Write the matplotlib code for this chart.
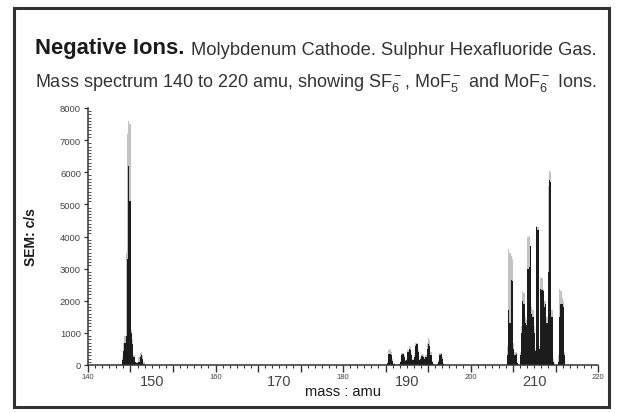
import numpy as np
import matplotlib
matplotlib.use('Agg')
import matplotlib.pyplot as plt
from matplotlib.patches import Rectangle

plt.rcParams['font.family'] = ['Liberation Sans', 'DejaVu Sans']
plt.rcParams['mathtext.default'] = 'regular'

# espectro de massa: SF6- (146), MoF5- (187-196), MoF6- (206-215)
# cada regiao em passos de 0.2 amu; "max" = halo cinza claro, "tipico" = traço escuro
massa_sf6 = np.arange(145.2, 149.01, 0.2)
max_sf6 = [0, 250, 700, 900, 3500, 7200, 7600, 7500, 1100, 800,
           300, 100, 80, 100, 250, 380, 400, 300, 80, 0]
tip_sf6 = [0, 150, 450, 700, 900, 3300, 6200, 5100, 1000, 650,
           250, 80, 60, 60, 100, 250, 300, 200, 40, 0]

massa_mof5 = np.arange(186.8, 196.01, 0.2)
max_mof5 = [0, 100, 480, 500, 420, 180, 50, 0, 0, 0,
            40, 120, 360, 380, 300, 160, 200, 480, 580, 560,
            380, 200, 300, 680, 700, 460, 200, 250, 330, 310,
            240, 300, 700, 830, 780, 400, 120, 40, 0, 0,
            40, 150, 360, 380, 260, 60, 0]
tip_mof5 = [0, 60, 330, 340, 300, 120, 30, 0, 0, 0,
            20, 80, 300, 330, 250, 120, 150, 400, 500, 480,
            300, 150, 250, 600, 650, 400, 150, 200, 280, 260,
            200, 250, 500, 650, 600, 300, 80, 20, 0, 0,
            20, 100, 320, 340, 200, 40, 0]

massa_mof6 = np.arange(205.6, 215.01, 0.2)
max_mof6 = [0, 600, 3600, 3500, 3400, 3300, 700, 400, 420, 100,
            0, 400, 1200, 2300, 2250, 1500, 1400, 4000, 4020, 3700,
            1800, 1700, 1200, 500, 4340, 4300, 600, 2740, 2700, 2370,
            2000, 2000, 1500, 5580, 6050, 6000, 1700, 200, 50, 0,
            0, 300, 2370, 2300, 2100, 2000, 400, 0]
tip_mof6 = [0, 300, 1700, 1300, 2650, 2600, 500, 300, 350, 50,
            0, 300, 1000, 2000, 1900, 1300, 1250, 3000, 3050, 3700,
            1600, 1500, 1000, 450, 4300, 4200, 500, 2370, 2350, 2300,
            1800, 1900, 1300, 2900, 5750, 5700, 1500, 100, 0, 0,
            0, 100, 1500, 1900, 1900, 1800, 300, 0]

rotulos_pequenos = [140, 160, 180, 200, 220]
rotulos_grandes = [150, 170, 190, 210]

massa = np.concatenate([massa_sf6, massa_mof5, massa_mof6])
cont_max = np.concatenate([max_sf6, max_mof5, max_mof6])
cont_tip = np.concatenate([tip_sf6, tip_mof5, tip_mof6])

fig = plt.figure(figsize=(6.23, 4.14), dpi=100)
W, H = 623, 414

# moldura externa
fig.patches.append(Rectangle((14 / W, 1 - 408 / H), 595 / W, 399 / H,
                             transform=fig.transFigure, fill=False,
                             lw=2.2, ec='#333333'))

ax = fig.add_axes([88 / W, 1 - 366 / H, 510 / W, 257 / H])

# titulo em duas linhas
t1 = fig.text(35 / W, 1 - 54 / H, 'Negative Ions.', fontsize=15.8,
              fontweight='bold', color='#1a1a1a', va='baseline')
ax.annotate('Molybdenum Cathode. Sulphur Hexafluoride Gas.',
            xy=(1, 0), xycoords=t1, xytext=(5, 0),
            textcoords='offset points', fontsize=13.2,
            color='#333333', va='bottom', annotation_clip=False)
fig.text(35 / W, 1 - 87 / H,
         r'Mass spectrum 140 to 220 amu, showing SF$_6^-$, MoF$_5^-$ and MoF$_6^-$ Ions.',
         fontsize=13.0, color='#333333', va='baseline')

ax.fill_between(massa, cont_max, step='mid', color='#c2c2c2', lw=0)
ax.fill_between(massa, cont_tip, step='mid', color='#1c1c1c', lw=0)

ax.set_xlim(140, 220)
ax.set_ylim(0, 8000)

for s in ['top', 'right']:
    ax.spines[s].set_visible(False)
for s in ['left', 'bottom']:
    ax.spines[s].set_color('#333333')
    ax.spines[s].set_linewidth(1.1)

ax.set_xticks(np.linspace(140, 220, 13))
ax.set_xticks(np.linspace(140, 220, 73), minor=True)
ax.set_xticklabels([])
ax.tick_params(axis='x', which='major', length=5, width=1, color='#333333')
ax.tick_params(axis='x', which='minor', length=2.5, width=0.8, color='#333333')

for v in rotulos_pequenos:
    ax.text(v, -0.043, str(v), transform=ax.get_xaxis_transform(),
            fontsize=5.5, color='#444444', ha='center', va='center')
for v in rotulos_grandes:
    ax.text(v, -0.064, str(v), transform=ax.get_xaxis_transform(),
            fontsize=10.5, color='#444444', ha='center', va='center')

ax.set_yticks(np.arange(0, 8001, 1000))
ax.set_yticks(np.arange(0, 8001, 100), minor=True)
ax.tick_params(axis='y', which='major', length=3, width=0.9, color='#333333',
               labelsize=6.8, labelcolor='#444444', pad=2)
ax.tick_params(axis='y', which='minor', direction='in', length=2.5,
               width=0.6, color='#333333')

ax.set_ylabel('SEM: c/s', fontsize=10, fontweight='bold', color='#1a1a1a')
ax.yaxis.set_label_coords(-0.098, 0.5)
ax.set_xlabel('mass : amu', fontsize=10.5, color='#1a1a1a')
ax.xaxis.set_label_coords(0.5, -0.074)

fig.savefig('out.png', dpi=100)
